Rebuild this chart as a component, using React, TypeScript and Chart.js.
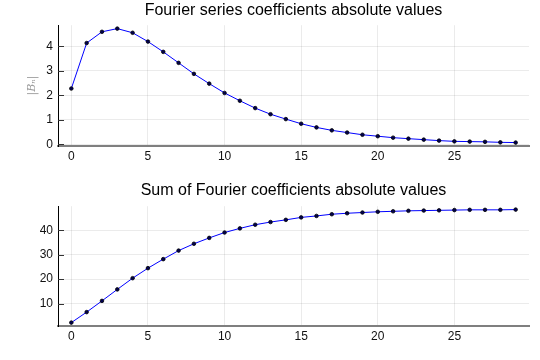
import React, { useEffect, useRef } from "react";
import { Chart, registerables } from "chart.js";
Chart.register(...registerables);

const nValues = [0, 1, 2, 3, 4, 5, 6, 7, 8, 9, 10, 11, 12, 13, 14, 15, 16, 17, 18, 19, 20, 21, 22, 23, 24, 25, 26, 27, 28, 29];
const coeffAbs = [2.28, 4.14, 4.6, 4.73, 4.56, 4.2, 3.78, 3.33, 2.88, 2.48, 2.1, 1.78, 1.48, 1.23, 1.03, 0.84, 0.69, 0.57, 0.48, 0.39, 0.33, 0.27, 0.23, 0.19, 0.15, 0.12, 0.11, 0.1, 0.08, 0.07];
const coeffSum = [2.2, 6.5, 11.1, 15.8, 20.4, 24.5, 28.2, 31.7, 34.5, 36.9, 39.1, 40.8, 42.3, 43.4, 44.3, 45.3, 45.9, 46.6, 47.0, 47.3, 47.6, 47.8, 48.0, 48.1, 48.2, 48.3, 48.4, 48.4, 48.4, 48.5];
const xTicks = [0, 5, 10, 15, 20, 25];
const yTicksTop = [0, 1, 2, 3, 4];
const yTicksBottom = [10, 20, 30, 40];
const titleTop = "Fourier series coefficients absolute values";
const titleBottom = "Sum of Fourier coefficients absolute values";
const yLabelTop = "|Bₙ|";

const innerTicks = {
  id: "innerTicks",
  beforeDatasetsDraw(chart: any) {
    const { ctx, chartArea, scales } = chart;
    const y = scales.y;
    ctx.save();
    ctx.strokeStyle = "#333";
    ctx.lineWidth = 1;
    y.ticks.forEach((t: any) => {
      const py = Math.round(y.getPixelForValue(t.value)) + 0.5;
      ctx.beginPath();
      ctx.moveTo(chartArea.left, py);
      ctx.lineTo(chartArea.left + 6, py);
      ctx.stroke();
    });
    ctx.restore();
  },
};

function makeConfig(values: number[], yTicks: number[], yMin: number, yMax: number, title: string, yLabel: string, titlePadTop: number, titlePadBottom: number): any {
  return {
    type: "line",
    data: {
      labels: nValues,
      datasets: [
        {
          data: nValues.map((x, i) => ({ x, y: values[i] })),
          borderColor: "#0000ff",
          borderWidth: 1,
          pointRadius: 1.8,
          pointBorderWidth: 0.8,
          pointBackgroundColor: "#000050",
          pointBorderColor: "#000000",
          tension: 0,
          fill: false,
        },
      ],
    },
    options: {
      responsive: false,
      animation: false,
      layout: { padding: { left: 0, right: 11, top: 0, bottom: 0 } },
      plugins: {
        legend: { display: false },
        tooltip: { enabled: false },
        title: {
          display: true,
          text: title,
          fullSize: false,
          color: "#000",
          font: { family: "'Liberation Sans', Arial, sans-serif", size: 16, weight: "normal", lineHeight: 1.2 },
          padding: { top: titlePadTop, bottom: titlePadBottom },
        },
      },
      scales: {
        x: {
          type: "linear",
          min: -0.87,
          max: 29.87,
          afterBuildTicks: (s: any) => {
            s.ticks = xTicks.map((v) => ({ value: v }));
          },
          afterFit: (s: any) => {
            s.height = 34;
          },
          grid: { color: "rgba(0,0,0,0.08)", drawTicks: false },
          border: { display: true, color: "#7f7f7f", width: 2 },
          ticks: {
            padding: 3,
            color: "#111",
            font: { family: "'Liberation Sans', Arial, sans-serif", size: 12 },
            maxRotation: 0,
          },
        },
        y: {
          type: "linear",
          min: yMin,
          max: yMax,
          afterBuildTicks: (s: any) => {
            s.ticks = yTicks.map((v) => ({ value: v }));
          },
          afterFit: (s: any) => {
            s.width = 58;
          },
          grid: { color: "rgba(0,0,0,0.08)", drawTicks: false },
          border: { display: true, color: "#000", width: 1 },
          ticks: {
            padding: 5,
            color: "#111",
            font: { family: "'Liberation Sans', Arial, sans-serif", size: 12 },
          },
          title: {
            display: yLabel.length > 0,
            text: yLabel,
            color: "#999",
            font: { family: "'DejaVu Serif', serif", size: 11, style: "italic" },
            padding: { top: 26, bottom: 0 },
          },
        },
      },
    },
    plugins: [innerTicks],
  };
}

function ChartCanvas(props: { config: () => any; top: number }) {
  const ref = useRef<HTMLCanvasElement | null>(null);
  useEffect(() => {
    if (!ref.current) return;
    const c = new Chart(ref.current, props.config());
    return () => c.destroy();
  }, []);
  return (
    <canvas
      ref={ref}
      width={540}
      height={180}
      style={{ position: "absolute", left: 0, top: props.top, width: 540, height: 180 }}
    />
  );
}

export default function App() {
  return (
    <div style={{ position: "fixed", left: 0, top: 0, width: 540, height: 360, background: "#fff" }}>
      <ChartCanvas top={0} config={() => makeConfig(coeffAbs, yTicksTop, -0.07, 4.87, titleTop, yLabelTop, 1, 5)} />
      <ChartCanvas top={180} config={() => makeConfig(coeffSum, yTicksBottom, 0.81, 49.89, titleBottom, "", 1, 6)} />
    </div>
  );
}
